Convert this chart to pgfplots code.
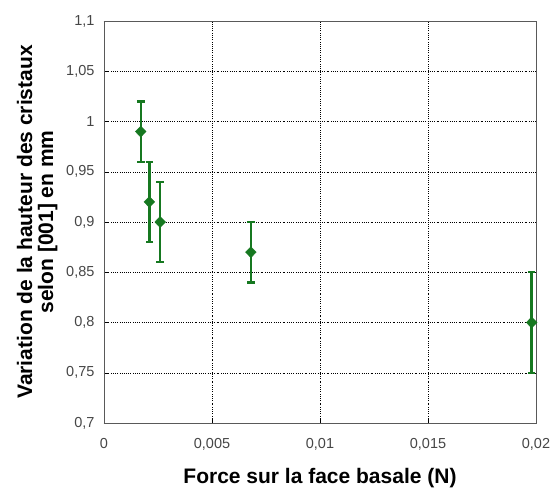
\documentclass[border=0pt]{standalone}
\usepackage{fontspec}
\setmainfont{Liberation Sans}
\usepackage{pgfplots}
\pgfplotsset{compat=1.18}
\definecolor{mygreen}{RGB}{22,120,32}
\begin{document}
\begin{tikzpicture}
\begin{axis}[
  scale only axis, width=432pt, height=402pt,
  xmin=0, xmax=0.02, ymin=0.7, ymax=1.1,
  xtick={0,0.005,0.01,0.015,0.02},
  ytick={0.7,0.75,0.8,0.85,0.9,0.95,1,1.05,1.1},
  /pgf/number format/assume math mode=true,
  /pgf/number format/.cd, use comma, fixed, precision=3, /pgfplots/.cd,
  scaled x ticks=false, scaled y ticks=false,
  grid=major,
  grid style={black, line width=0.5pt, dash pattern=on 1pt off 1.5pt on 0.4pt off 1.5pt},
  axis line style={gray!70!black, line width=0.9pt},
  tick align=inside, xtick pos=bottom, ytick pos=left,
  major tick length=4pt,
  tick style={black, line width=0.5pt},
  tick label style={font=\fontsize{14.5}{16}\selectfont, text=gray!55!black},
  xticklabel style={yshift=-12pt},
  yticklabel style={xshift=-6pt},
  label style={font=\bfseries\fontsize{21}{21}\selectfont},
  xlabel={Force sur la face basale (N)},
  ylabel={Variation de la hauteur des cristaux\\selon [001] en mm},
  ylabel style={align=center, yshift=2pt},
  xlabel style={yshift=-11pt},
]
\addplot+[only marks, mark=diamond*, color=mygreen,
  mark options={fill=mygreen, draw=mygreen, solid, xscale=1.3},
  mark size=5.5pt,
  error bars/.cd, y dir=both, y explicit,
  error bar style={line width=2.4pt, mygreen},
  error mark options={rotate=90, mark size=3.8pt, line width=2.4pt, mygreen}]
coordinates {
  (0.0017,0.99) +- (0,0.03)
  (0.0021,0.92) +- (0,0.04)
  (0.0026,0.90) +- (0,0.04)
  (0.0068,0.87) +- (0,0.03)
  (0.0198,0.80) +- (0,0.05)
};
\end{axis}
\path ([shift={(-104pt,-63pt)}]current axis.south west) rectangle ([shift={(23pt,21pt)}]current axis.north east);
\end{tikzpicture}
\end{document}
